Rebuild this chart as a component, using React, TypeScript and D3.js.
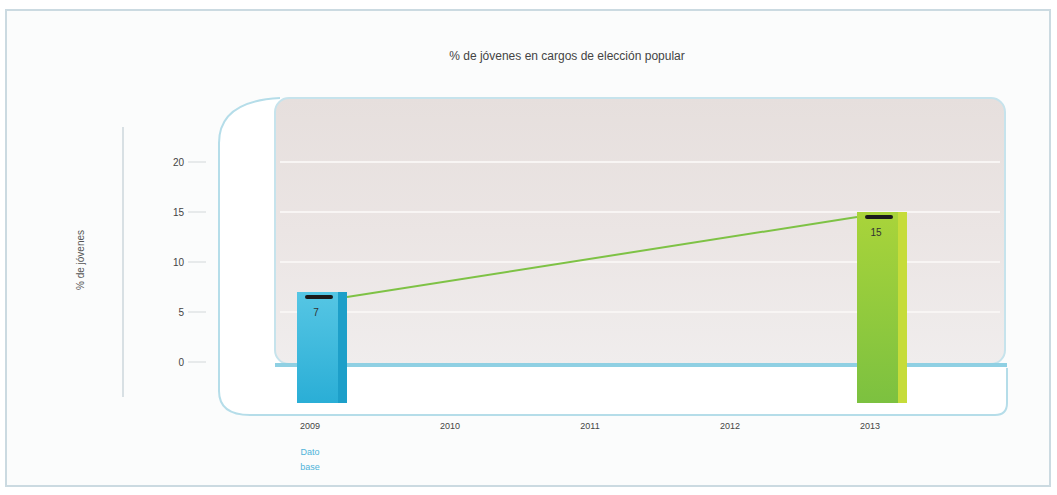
import React from "react";
import * as d3 from "d3";

const title = "% de jóvenes en cargos de elección popular";
const yLabel = "% de jóvenes";
const years = ["2009", "2010", "2011", "2012", "2013"];
const barYears = ["2009", "2013"];
const barValues = [7, 15];
const barLabels = ["7", "15"];
const yTicks = [0, 5, 10, 15, 20];
const baseNote = ["Dato", "base"];

const W = 1057;
const H = 495;

export default function App() {
  const x = d3.scalePoint<string>().domain(years).range([322, 882]);
  const y = d3.scaleLinear().domain([0, 20]).range([362, 162]);
  const barW = 50;
  const sideW = 9;
  const floorY = y(0) + 41;
  const font = "Liberation Sans, Arial, sans-serif";

  const linePts: [number, number][] = barYears.map((yr, i) => [
    (x(yr) as number) + (i === 0 ? barW / 2 : -barW / 2),
    y(barValues[i]) + 5,
  ]);
  const line = d3.line();

  const backL = 275, backR = 1005, backT = 98, backB = y(0) + 2;

  return (
    <svg width={W} height={H} style={{ position: "absolute", left: 0, top: 0 }} fontFamily={font}>
      <defs>
        <linearGradient id="wall" x1="0" y1="0" x2="0" y2="1">
          <stop offset="0" stopColor="#e6dfdd" />
          <stop offset="0.5" stopColor="#ebe5e4" />
          <stop offset="1" stopColor="#f0eded" />
        </linearGradient>
        <linearGradient id="blueFront" x1="0" y1="0" x2="0" y2="1">
          <stop offset="0" stopColor="#56c6e4" />
          <stop offset="1" stopColor="#2aaed6" />
        </linearGradient>
        <linearGradient id="greenFront" x1="0" y1="0" x2="0" y2="1">
          <stop offset="0" stopColor="#a9d43a" />
          <stop offset="1" stopColor="#7cc140" />
        </linearGradient>
      </defs>
      <rect x={0} y={0} width={W} height={H} fill="#ffffff" />
      <rect x={6} y={10} width={1044} height={476} fill="#fbfcfc" stroke="#cbdae1" strokeWidth={2} />

      <text x={567} y={60} textAnchor="middle" fontSize={12} fill="#444">{title}</text>

      {/* y axis label & line */}
      <text transform="translate(84,260) rotate(-90)" textAnchor="middle" fontSize={10} fill="#555">{yLabel}</text>
      <line x1={123} x2={123} y1={127} y2={397} stroke="#cdd7dc" strokeWidth={1.5} />

      {/* left wall / floor outline */}
      <path
        d={`M${backL + 5},${backT} C240,${backT + 2} 219,${backT + 16} 219,${backT + 45} L219,${floorY - 12} Q219,${floorY + 12} 250,${floorY + 12} L${backR - 10},${floorY + 12} Q${backR + 2},${floorY + 12} ${backR + 2},${floorY} L${backR + 2},${backB + 4}`}
        fill="#ffffff"
        stroke="#b5dde9"
        strokeWidth={2}
      />
      {/* back wall */}
      <rect x={backL} y={backT} width={backR - backL} height={backB - backT} rx={14} fill="url(#wall)" stroke="#c6e3ec" strokeWidth={2} />
      {/* grid lines */}
      {yTicks.filter((t) => t > 0).map((t) => (
        <line key={t} x1={backL + 5} x2={backR - 5} y1={y(t)} y2={y(t)} stroke="#f8f5f4" strokeWidth={2} />
      ))}
      {/* zero line */}
      <line x1={backL} x2={backR + 2} y1={y(0) + 3} y2={y(0) + 3} stroke="#8fd0e3" strokeWidth={4} />

      {/* y ticks */}
      {yTicks.map((t) => (
        <g key={t}>
          <line x1={188} x2={206} y1={y(t)} y2={y(t)} stroke="#d3d8da" strokeWidth={1} />
          <text x={184} y={y(t) + 4} textAnchor="end" fontSize={10} fill="#444">{t}</text>
        </g>
      ))}

      {/* bars */}
      {barYears.map((yr, i) => {
        const cx = x(yr) as number;
        const top = y(barValues[i]);
        const left = cx - barW / 2;
        const isBlue = i === 0;
        return (
          <g key={yr}>
            <rect x={left} y={top} width={barW - sideW} height={floorY - top} fill={isBlue ? "url(#blueFront)" : "url(#greenFront)"} />
            <rect x={left + barW - sideW} y={top} width={sideW} height={floorY - top} fill={isBlue ? "#1d9fc9" : "#c6dc3a"} />
            <rect x={left + 8} y={top + 3} width={barW - 22} height={4} rx={2} fill="#1a1a1a" />
            <text x={cx - 6} y={top + 24} textAnchor="middle" fontSize={10} fill="#333">{barLabels[i]}</text>
          </g>
        );
      })}

      {/* connecting line */}
      <path d={line(linePts) || ""} fill="none" stroke="#7ec245" strokeWidth={2} />

      {/* x labels */}
      {years.map((yr) => (
        <text key={yr} x={(x(yr) as number) - 12} y={429} textAnchor="middle" fontSize={9} fill="#444">{yr}</text>
      ))}
      {baseNote.map((s, i) => (
        <text key={s} x={(x("2009") as number) - 12} y={455 + i * 15} textAnchor="middle" fontSize={9} fill="#4fb3d9">{s}</text>
      ))}
    </svg>
  );
}
